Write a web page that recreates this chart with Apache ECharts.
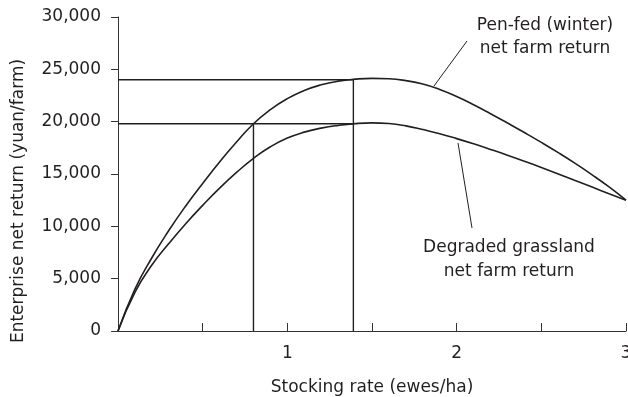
<!DOCTYPE html>
<html>
<head>
<meta charset="utf-8">
<script src="https://cdn.jsdelivr.net/npm/echarts@6/dist/echarts.min.js"></script>
<style>
  html, body { margin: 0; padding: 0; background: #fff; }
  #chart { width: 628px; height: 397px; }
</style>
</head>
<body>
<div id="chart"></div>
<script>
// stocking rate (ewes/ha)
var stockingRate = [0, 0.1, 0.2, 0.3, 0.4, 0.5, 0.6, 0.7, 0.8, 0.9, 1.0,
    1.1, 1.2, 1.3, 1.4, 1.5, 1.6, 1.7, 1.8, 1.9, 2.0,
    2.1, 2.2, 2.3, 2.4, 2.5, 2.6, 2.7, 2.8, 2.9, 3.0];
// net return (yuan/farm)
var penFed = [0, 4000, 7000, 9600, 11950, 14100, 16150, 18050, 19800, 21150, 22200,
    22980, 23520, 23870, 24060, 24140, 24100, 23920, 23600, 23080, 22400,
    21620, 20760, 19870, 18960, 18020, 17040, 16010, 14920, 13760, 12500];
var degraded = [0, 3700, 6300, 8350, 10250, 12000, 13650, 15150, 16500, 17600, 18430,
    19000, 19380, 19640, 19810, 19880, 19820, 19600, 19250, 18850, 18380,
    17880, 17350, 16800, 16220, 15620, 15000, 14370, 13750, 13120, 12500];
// reading lines
var optimumPen = [[0, 24000], [1.39, 24000], [1.39, 0]];
var optimumDegraded = [[0, 19800], [1.39, 19800]];
var equalReturn = [[0.8, 19800], [0.8, 0]];
var xTicks = [1, 2, 3];

function pairs(xs, ys) {
    return xs.map(function (x, i) { return [x, ys[i]]; });
}

var ink = '#231f20';
var font = '"DejaVu Sans", sans-serif';

var myChart = echarts.init(document.getElementById('chart'));

var option = {
    backgroundColor: '#fff',
    animation: false,
    grid: { left: 118, right: 2, top: 17, bottom: 66, outerBoundsMode: 'none' },
    xAxis: {
        type: 'value',
        min: 0,
        max: 3,
        interval: 0.5,
        name: 'Stocking rate (ewes/ha)',
        nameLocation: 'middle',
        nameGap: 48,
        nameTextStyle: { color: ink, fontSize: 17, fontFamily: font },
        axisLine: { lineStyle: { color: '#333', width: 1 } },
        axisTick: { inside: true, length: 8, lineStyle: { color: '#333' } },
        axisLabel: {
            color: ink, fontSize: 17, fontFamily: font, margin: 14,
            formatter: function (v) { return xTicks.indexOf(v) >= 0 ? String(v) : ''; }
        },
        splitLine: { show: false }
    },
    yAxis: {
        type: 'value',
        min: 0,
        max: 30000,
        interval: 5000,
        axisLine: { show: true, lineStyle: { color: '#333', width: 1 } },
        axisTick: { show: true, length: 7, lineStyle: { color: '#333' } },
        axisLabel: {
            color: ink, fontSize: 17, fontFamily: font, margin: 17,
            formatter: function (v) { return v.toLocaleString('en-US'); }
        },
        splitLine: { show: false }
    },
    series: [
        {
            name: 'Pen-fed (winter) net farm return',
            type: 'line',
            data: pairs(stockingRate, penFed),
            smooth: 0.5,
            showSymbol: false,
            lineStyle: { color: ink, width: 1.6 }
        },
        {
            name: 'Degraded grassland net farm return',
            type: 'line',
            data: pairs(stockingRate, degraded),
            smooth: 0.5,
            showSymbol: false,
            lineStyle: { color: ink, width: 1.6 }
        },
        {
            type: 'line', data: optimumPen, showSymbol: false,
            lineStyle: { color: ink, width: 1.4 }
        },
        {
            type: 'line', data: optimumDegraded, showSymbol: false,
            lineStyle: { color: ink, width: 1.4 }
        },
        {
            type: 'line', data: equalReturn, showSymbol: false,
            lineStyle: { color: ink, width: 1.4 }
        }
    ],
    graphic: [
        // y axis title sits lower than the plot middle in the original
        {
            type: 'text', x: 19, y: 201, rotation: Math.PI / 2,
            style: {
                text: 'Enterprise net return (yuan/farm)',
                fill: ink, font: '17px ' + font,
                align: 'center', verticalAlign: 'middle'
            }
        },
        {
            type: 'text', x: 545, y: 37,
            style: {
                text: 'Pen-fed (winter)\nnet farm return',
                fill: ink, font: '17px ' + font,
                align: 'center', verticalAlign: 'middle', lineHeight: 23
            }
        },
        {
            type: 'line',
            shape: { x1: 467, y1: 41, x2: 434, y2: 86 },
            style: { stroke: ink, lineWidth: 1 }
        },
        {
            type: 'text', x: 509, y: 260,
            style: {
                text: 'Degraded grassland\nnet farm return',
                fill: ink, font: '17px ' + font,
                align: 'center', verticalAlign: 'middle', lineHeight: 24
            }
        },
        {
            type: 'line',
            shape: { x1: 458, y1: 143, x2: 472, y2: 228 },
            style: { stroke: ink, lineWidth: 1 }
        }
    ]
};

if (option && typeof option === 'object') {
    myChart.setOption(option);
}
</script>
</body>
</html>
